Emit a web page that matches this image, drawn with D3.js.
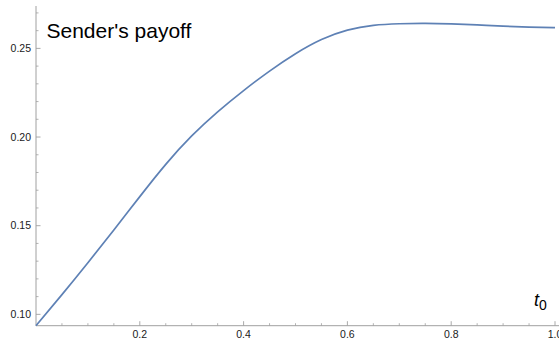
<!DOCTYPE html>
<html>
<head>
<meta charset="utf-8">
<script src="https://cdn.jsdelivr.net/npm/d3@7"></script>
<style>
  html, body { margin: 0; padding: 0; background: #fff; }
  svg { display: block; }
  text { font-family: "Liberation Sans", Arial, Helvetica, sans-serif; }
</style>
</head>
<body>
<svg id="chart" width="559" height="341"></svg>
<script>
// Sender's payoff as a function of t0
const t0Values = [0, 0.05, 0.10, 0.15, 0.20, 0.25, 0.30, 0.35, 0.40, 0.45, 0.50,
                  0.55, 0.60, 0.65, 0.70, 0.75, 0.80, 0.85, 0.90, 0.95, 1.00];
const payoffValues = [0.0936, 0.1111, 0.1291, 0.1476, 0.1664, 0.1846, 0.2006, 0.2142, 0.2262, 0.2372, 0.2470,
                      0.2550, 0.2603, 0.2630, 0.2639, 0.2641, 0.2638, 0.2632, 0.2625, 0.2620, 0.2617];

const xMajorTicks = [0.2, 0.4, 0.6, 0.8, 1.0];
const xTickLabels = ["0.2", "0.4", "0.6", "0.8", "1.0"];
const yMajorTicks = [0.10, 0.15, 0.20, 0.25];
const yTickLabels = ["0.10", "0.15", "0.20", "0.25"];

const svg = d3.select("#chart");
const axisColor = "#a0a0a0";
const lineColor = "#5e81b5";

const x = d3.scaleLinear().domain([0, 1]).range([36, 555]);
const y = d3.scaleLinear().domain([0.0936, 0.2739]).range([325.7, 6]);

const x0 = x(0), yBase = y(0.0936);

// minor tick positions
const xMinor = d3.range(1, 21).map(i => i * 0.05).filter(v => Math.abs(v * 5 - Math.round(v * 5)) > 1e-6);
const yMinor = d3.range(10, 28).map(i => i / 100).filter(v => Math.abs(v * 20 - Math.round(v * 20)) > 1e-6);

const g = svg.append("g");

// axis lines
g.append("line").attr("x1", x0).attr("x2", 559).attr("y1", yBase).attr("y2", yBase)
  .attr("stroke", axisColor).attr("stroke-width", 1);
g.append("line").attr("x1", x0).attr("x2", x0).attr("y1", 6).attr("y2", yBase)
  .attr("stroke", axisColor).attr("stroke-width", 1);

// x ticks (pointing inward)
g.selectAll(".xminor").data(xMinor).enter().append("line")
  .attr("x1", d => x(d)).attr("x2", d => x(d))
  .attr("y1", yBase).attr("y2", yBase - 2.5)
  .attr("stroke", axisColor).attr("stroke-width", 0.8);
g.selectAll(".xmajor").data(xMajorTicks).enter().append("line")
  .attr("x1", d => x(d)).attr("x2", d => x(d))
  .attr("y1", yBase).attr("y2", yBase - 4.5)
  .attr("stroke", axisColor).attr("stroke-width", 0.9);
g.selectAll(".xlab").data(xMajorTicks).enter().append("text")
  .attr("x", d => x(d)).attr("y", 338)
  .attr("text-anchor", "middle").attr("font-size", 10.5).attr("fill", "#1a1a1a")
  .text((d, i) => xTickLabels[i]);

// y ticks (pointing inward)
g.selectAll(".yminor").data(yMinor).enter().append("line")
  .attr("x1", x0).attr("x2", x0 + 2.5)
  .attr("y1", d => y(d)).attr("y2", d => y(d))
  .attr("stroke", axisColor).attr("stroke-width", 0.8);
g.selectAll(".ymajor").data(yMajorTicks).enter().append("line")
  .attr("x1", x0).attr("x2", x0 + 4.5)
  .attr("y1", d => y(d)).attr("y2", d => y(d))
  .attr("stroke", axisColor).attr("stroke-width", 0.9);
g.selectAll(".ylab").data(yMajorTicks).enter().append("text")
  .attr("x", 31).attr("y", d => y(d) + 3.7)
  .attr("text-anchor", "end").attr("font-size", 10.5).attr("fill", "#1a1a1a")
  .text((d, i) => yTickLabels[i]);

// payoff curve
const pts = t0Values.map((t, i) => [t, payoffValues[i]]);
const line = d3.line().x(d => x(d[0])).y(d => y(d[1])).curve(d3.curveNatural);
svg.append("path").datum(pts)
  .attr("d", line)
  .attr("fill", "none")
  .attr("stroke", lineColor)
  .attr("stroke-width", 1.7)
  .attr("stroke-linejoin", "round");

// title
svg.append("text").attr("x", 46.5).attr("y", 37.5)
  .attr("font-size", 21).attr("fill", "#000")
  .text("Sender's payoff");

// axis label t0
const lab = svg.append("text").attr("x", 534).attr("y", 306).attr("fill", "#000");
lab.append("tspan").attr("font-size", 18).attr("font-style", "italic").text("t");
lab.append("tspan").attr("font-size", 14).attr("dy", 4).text("0");
</script>
</body>
</html>
